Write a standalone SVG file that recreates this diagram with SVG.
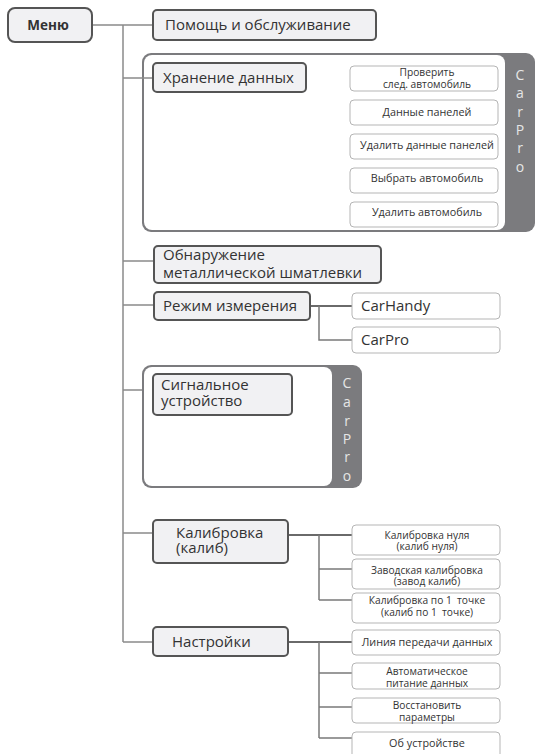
<svg xmlns="http://www.w3.org/2000/svg" width="536" height="754" viewBox="0 0 536 754">
<style>
text{font-family:"Open Sans","Liberation Sans",sans-serif;fill:#333}
.main{fill:#f1f1f3;stroke:#555;stroke-width:2}
.child{fill:#fff;stroke:#b5b5b5;stroke-width:1}
.lbl{font-size:15px}
.sm{font-size:10.8px;text-anchor:middle}
.sm2{font-size:10.2px;text-anchor:middle}
.trunk{stroke:#8a8a8a;stroke-width:1.5;fill:none}
.conn{stroke:#6a6a6a;stroke-width:2;fill:none}
.sub{stroke:#7a7a7a;stroke-width:1.5;fill:none}
.strip{fill:#7b7b7e}
.vt{font-size:14px;fill:#e6e6e6;text-anchor:middle}
</style>
<rect width="536" height="754" fill="#fff"/>

<g id="connectors">
<path class="trunk" d="M123 25V642"/>
<path class="trunk" d="M92 25H153M123 78H153M123 261H153M123 305H153M123 390H142M123 533H153M123 642H153"/>
<path class="conn" d="M306 78H350M288 535H352M288 642H352M310 306H352"/>
<path class="sub" d="M319 78V142M319 111H350M319 142H350"/>
<path class="sub" d="M319 306V340H352"/>
<path class="sub" d="M319 535V600M319 569H352M319 600H352"/>
<path class="sub" d="M319 642V738M319 673H352M319 707H352M319 738H352"/>
</g>

<g id="menu">
<rect class="main" x="8" y="8" width="84" height="34" rx="7"/>
<text x="48" y="30" style="font-size:13.5px;font-weight:bold;text-anchor:middle">Меню</text>
</g>

<g id="help">
<rect class="main" x="153" y="10" width="223" height="30" rx="4"/>
<text class="lbl" x="165" y="30">Помощь и обслуживание</text>
</g>

<g id="storage-group">
<rect class="strip" x="142" y="53" width="393" height="179" rx="9"/>
<rect x="144" y="55" width="361" height="175" rx="8" fill="#fff"/>
<text class="vt" x="520" y="80">C</text>
<text class="vt" x="520" y="98">a</text>
<text class="vt" x="520" y="117">r</text>
<text class="vt" x="520" y="135">P</text>
<text class="vt" x="520" y="153">r</text>
<text class="vt" x="520" y="172">o</text>
</g>
<path class="trunk" d="M142 78H153"/>

<g id="storage">
<rect class="main" x="153" y="63" width="153" height="29" rx="4"/>
<text class="lbl" x="163" y="83">Хранение данных</text>
</g>
<g id="check-next">
<rect class="child" x="350" y="66" width="148" height="25" rx="4"/>
<text class="sm2" x="427" y="76">Проверить</text>
<text class="sm2" x="427" y="87.5">след. автомобиль</text>
</g>
<g id="panel-data">
<rect class="child" x="350" y="100" width="148" height="25" rx="4"/>
<text class="sm" x="427" y="116">Данные панелей</text>
</g>
<g id="delete-panel-data">
<rect class="child" x="350" y="134" width="148" height="25" rx="4"/>
<text class="sm" x="427" y="149">Удалить данные панелей</text>
</g>
<g id="select-car">
<rect class="child" x="350" y="168" width="148" height="25" rx="4"/>
<text class="sm" x="427" y="182">Выбрать автомобиль</text>
</g>
<g id="delete-car">
<rect class="child" x="350" y="202" width="148" height="25" rx="4"/>
<text class="sm" x="427" y="216">Удалить автомобиль</text>
</g>

<g id="detect">
<rect class="main" x="154" y="246" width="227" height="37" rx="4"/>
<text class="lbl" x="163" y="260">Обнаружение</text>
<text class="lbl" x="163" y="278">металлической шматлевки</text>
</g>

<g id="mode">
<rect class="main" x="154" y="292" width="156" height="28" rx="4"/>
<text class="lbl" x="163" y="311">Режим измерения</text>
</g>
<g id="carhandy">
<rect class="child" x="352" y="293" width="148" height="26" rx="4"/>
<text class="lbl" x="361" y="311">CarHandy</text>
</g>
<g id="carpro">
<rect class="child" x="352" y="327" width="148" height="26" rx="4"/>
<text class="lbl" x="361" y="345">CarPro</text>
</g>

<g id="signal-group">
<rect class="strip" x="142" y="365" width="220" height="123" rx="9"/>
<rect x="144" y="367" width="188" height="119" rx="8" fill="#fff"/>
<text class="vt" x="347" y="388">C</text>
<text class="vt" x="347" y="407">a</text>
<text class="vt" x="347" y="426">r</text>
<text class="vt" x="347" y="444">P</text>
<text class="vt" x="347" y="462">r</text>
<text class="vt" x="347" y="481">o</text>
</g>
<g id="signal">
<rect class="main" x="153" y="374" width="139" height="41" rx="4"/>
<text class="lbl" x="161" y="390">Сигнальное</text>
<text class="lbl" x="161" y="406">устройство</text>
</g>

<g id="calib">
<rect class="main" x="153" y="520" width="135" height="43" rx="4"/>
<text class="lbl" x="176" y="538">Калибровка</text>
<text class="lbl" x="176" y="553">(калиб)</text>
</g>
<g id="calib-zero">
<rect class="child" x="352" y="525" width="148" height="30" rx="4"/>
<text class="sm2" x="427" y="538.5">Калибровка нуля</text>
<text class="sm2" x="427" y="550">(калиб нуля)</text>
</g>
<g id="calib-factory">
<rect class="child" x="352" y="559" width="148" height="30" rx="4"/>
<text class="sm2" x="427" y="573.5">Заводская калибровка</text>
<text class="sm2" x="427" y="585">(завод калиб)</text>
</g>
<g id="calib-one">
<rect class="child" x="352" y="593" width="148" height="30" rx="4"/>
<text class="sm2" x="427" y="604">Калибровка по 1&#160; точке</text>
<text class="sm2" x="427" y="615.5">(калиб по 1&#160; точке)</text>
</g>

<g id="settings">
<rect class="main" x="153" y="627" width="135" height="29" rx="4"/>
<text class="lbl" x="172" y="647">Настройки</text>
</g>
<g id="data-line">
<rect class="child" x="352" y="630" width="148" height="25" rx="4"/>
<text class="sm" x="427" y="646">Линия передачи данных</text>
</g>
<g id="auto-power">
<rect class="child" x="352" y="663" width="148" height="26" rx="4"/>
<text class="sm2" x="427" y="675">Автоматическое</text>
<text class="sm2" x="427" y="686.5">питание данных</text>
</g>
<g id="restore">
<rect class="child" x="352" y="698" width="148" height="25" rx="4"/>
<text class="sm2" x="427" y="709">Восстановить</text>
<text class="sm2" x="427" y="720.5">параметры</text>
</g>
<g id="about">
<rect class="child" x="352" y="732" width="148" height="30" rx="4"/>
<text class="sm" x="427" y="747">Об устройстве</text>
</g>
</svg>
